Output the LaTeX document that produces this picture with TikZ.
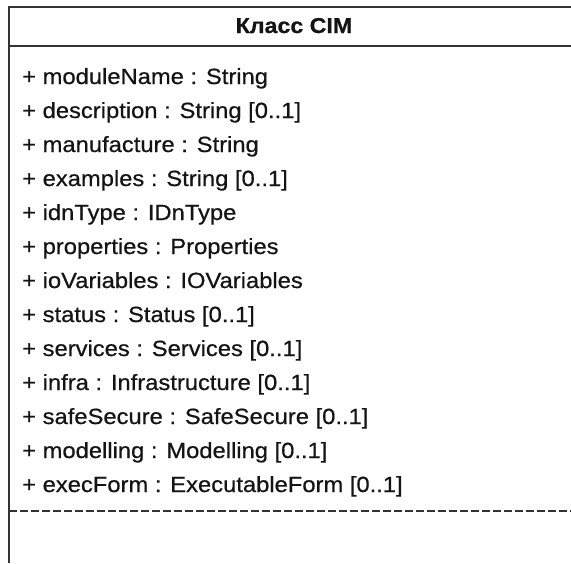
\documentclass[tikz,border=0pt]{standalone}
\usepackage{fontspec}
\setmainfont{Liberation Sans}[FakeStretch=1.08,FakeBold=0.6]
\begin{document}
\begin{tikzpicture}[x=1pt,y=-1pt,
  frame/.style={draw=black!80, line width=1.8pt},
  sep/.style={frame, dash pattern=on 8pt off 3pt},
  attr/.style={anchor=base west, inner sep=0pt, font=\fontsize{22}{22}\selectfont, text=black!92},
  titlestyle/.style={anchor=base, inner sep=0pt, font=\fontsize{21.5}{22}\selectfont\bfseries, text=black!92}]
\useasboundingbox (0,0) rectangle (571,563);
\fill[white] (0,0) rectangle (571,563);
\coordinate (tl) at (9,7);
\coordinate (tr) at (575,7);
\coordinate (bl) at (9,563);
\coordinate (hl) at (9,46);
\coordinate (hr) at (575,46);
\coordinate (dl) at (9,511);
\coordinate (dr) at (575,511);
\draw[frame] (bl) -- (tl) -- (tr);
\draw[frame] (hl) -- (hr);
\draw[sep] (dl) -- (dr);
\node[titlestyle] (title) at (294,33) {Класс CIM};
\foreach \t [count=\i from 0] in {%
  {+ moduleName : String},
  {+ description : String [0..1]},
  {+ manufacture : String},
  {+ examples : String [0..1]},
  {+ idnType : IDnType},
  {+ properties : Properties},
  {+ ioVariables : IOVariables},
  {+ status : Status [0..1]},
  {+ services : Services [0..1]},
  {+ infra : Infrastructure [0..1]},
  {+ safeSecure : SafeSecure [0..1]},
  {+ modelling : Modelling [0..1]},
  {+ execForm : ExecutableForm [0..1]}}
  \node[attr] (a\i) at (22,84+34*\i) {\t};
\end{tikzpicture}
\end{document}
